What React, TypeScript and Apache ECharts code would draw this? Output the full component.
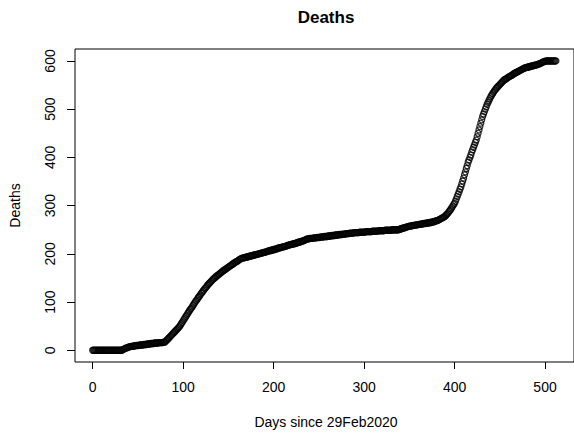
import React, { useEffect, useRef } from "react";
import * as echarts from "echarts";

const chartTitle = "Deaths";
const xAxisTitle = "Days since 29Feb2020";
const yAxisTitle = "Deaths";
const xTicks = [0, 100, 200, 300, 400, 500];
const yTicks = [0, 100, 200, 300, 400, 500, 600];

// cumulative deaths, one value per day starting at day 0
const deaths = [
  0, 0, 0, 0, 0, 0, 0, 0, 0, 0,
  0, 0, 0, 0, 0, 0, 0, 0, 0, 0,
  0, 0, 0, 0, 0, 0, 0, 0, 0, 0,
  0, 0, 0, 1, 2, 3, 4, 5, 5, 6,
  7, 7, 8, 8, 8, 9, 9, 9, 10, 10,
  10, 10, 11, 11, 11, 11, 12, 12, 12, 12,
  13, 13, 13, 13, 14, 14, 14, 14, 15, 15,
  15, 15, 15, 16, 16, 16, 16, 16, 17, 17,
  17, 19, 21, 23, 25, 27, 29, 31, 33, 35,
  37, 39, 41, 43, 45, 47, 49, 52, 55, 58,
  61, 64, 67, 70, 73, 76, 79, 82, 85, 87,
  90, 93, 96, 99, 102, 104, 107, 110, 112, 115,
  118, 120, 123, 125, 128, 130, 132, 135, 137, 139,
  141, 143, 145, 147, 149, 150, 152, 154, 155, 157,
  158, 160, 161, 163, 164, 166, 167, 168, 170, 171,
  172, 174, 175, 176, 178, 179, 180, 182, 183, 184,
  185, 186, 188, 189, 190, 191, 191, 192, 192, 193,
  193, 194, 194, 195, 195, 196, 196, 197, 197, 198,
  198, 199, 199, 200, 200, 201, 201, 202, 202, 203,
  203, 204, 204, 205, 206, 206, 207, 207, 208, 208,
  209, 209, 210, 210, 211, 212, 212, 213, 213, 214,
  214, 215, 215, 216, 216, 217, 218, 218, 219, 219,
  220, 220, 221, 221, 222, 222, 223, 224, 224, 225,
  225, 226, 227, 227, 228, 229, 230, 231, 231, 231,
  232, 232, 232, 232, 233, 233, 233, 233, 234, 234,
  234, 234, 235, 235, 235, 235, 236, 236, 236, 236,
  237, 237, 237, 237, 238, 238, 238, 238, 239, 239,
  239, 239, 240, 240, 240, 240, 241, 241, 241, 241,
  242, 242, 242, 242, 243, 243, 243, 243, 243, 244,
  244, 244, 244, 244, 244, 245, 245, 245, 245, 245,
  245, 245, 246, 246, 246, 246, 246, 246, 246, 247,
  247, 247, 247, 247, 247, 247, 248, 248, 248, 248,
  248, 248, 248, 249, 249, 249, 249, 249, 249, 249,
  249, 250, 250, 250, 250, 250, 250, 250, 250, 251,
  251, 252, 253, 253, 254, 254, 255, 256, 256, 257,
  257, 258, 258, 258, 259, 259, 259, 260, 260, 260,
  261, 261, 261, 262, 262, 262, 263, 263, 263, 264,
  264, 264, 265, 265, 265, 266, 266, 267, 267, 268,
  269, 269, 270, 271, 272, 273, 274, 275, 276, 277,
  279, 281, 283, 285, 288, 290, 293, 296, 299, 302,
  305, 309, 314, 319, 324, 329, 334, 339, 345, 351,
  357, 364, 370, 377, 383, 390, 395, 400, 405, 411,
  416, 421, 426, 431, 436, 443, 450, 457, 464, 471,
  478, 485, 490, 495, 500, 505, 510, 514, 518, 522,
  526, 529, 532, 535, 538, 540, 543, 545, 547, 549,
  551, 553, 555, 557, 559, 561, 562, 563, 564, 566,
  567, 568, 569, 570, 571, 573, 574, 575, 576, 577,
  578, 579, 580, 581, 582, 583, 584, 585, 586, 586,
  587, 587, 588, 588, 589, 589, 590, 590, 591, 591,
  592, 592, 593, 594, 594, 595, 596, 597, 598, 599,
  599, 600, 600, 600, 600, 600, 600, 600, 600, 600,
  600, 600, 600,
];

const FONT = "Liberation Sans, Arial, sans-serif";

export default function App() {
  const ref = useRef<HTMLDivElement>(null);
  useEffect(() => {
    document.body.style.margin = "0";
    const chart = echarts.init(ref.current!, undefined, { renderer: "svg" });
    const points = deaths.map((v, i) => [i, v]);
    const gl = 75, gt = 49, gw = 502, gh = 313;
    chart.setOption({
      animation: false,
      backgroundColor: "#fff",
      textStyle: { fontFamily: FONT },
      grid: {
        left: gl, top: gt, width: gw, height: gh,
        show: true, borderColor: "#000", borderWidth: 1, backgroundColor: "transparent",
      },
      xAxis: {
        type: "value",
        min: -19.5,
        max: 532,
        axisLine: { show: false, onZero: false },
        splitLine: { show: false },
        axisTick: { show: true, customValues: xTicks, length: 7, inside: false, lineStyle: { color: "#000", width: 1 } },
        axisLabel: { customValues: xTicks, color: "#000", fontSize: 14, fontFamily: FONT, margin: 18 },
      },
      yAxis: {
        type: "value",
        min: -24.3,
        max: 624.8,
        axisLine: { show: false, onZero: false },
        splitLine: { show: false },
        axisTick: { show: true, customValues: yTicks, length: 8, inside: false, lineStyle: { color: "#000", width: 1 } },
        axisLabel: { customValues: yTicks, color: "#000", fontSize: 14, fontFamily: FONT, rotate: 90, margin: 18 },
      },
      graphic: [
        {
          type: "text", x: 326, y: 17,
          style: { text: chartTitle, font: `bold 17px ${FONT}`, fill: "#000", textAlign: "center", textVerticalAlign: "middle" },
        },
        {
          type: "text", x: 326, y: 422,
          style: { text: xAxisTitle, font: `14px ${FONT}`, fill: "#000", textAlign: "center", textVerticalAlign: "middle" },
        },
        {
          type: "text", x: 15, y: 205.5, rotation: Math.PI / 2,
          style: { text: yAxisTitle, font: `14px ${FONT}`, fill: "#000", textAlign: "center", textVerticalAlign: "middle" },
        },
      ],
      series: [
        {
          type: "scatter",
          data: points,
          symbol: "circle",
          symbolSize: 6,
          itemStyle: { color: "transparent", borderColor: "#000", borderWidth: 1.3 },
          emphasis: { disabled: true },
        },
      ],
    });
    return () => chart.dispose();
  }, []);
  return <div ref={ref} style={{ width: 574, height: 434 }} />;
}
